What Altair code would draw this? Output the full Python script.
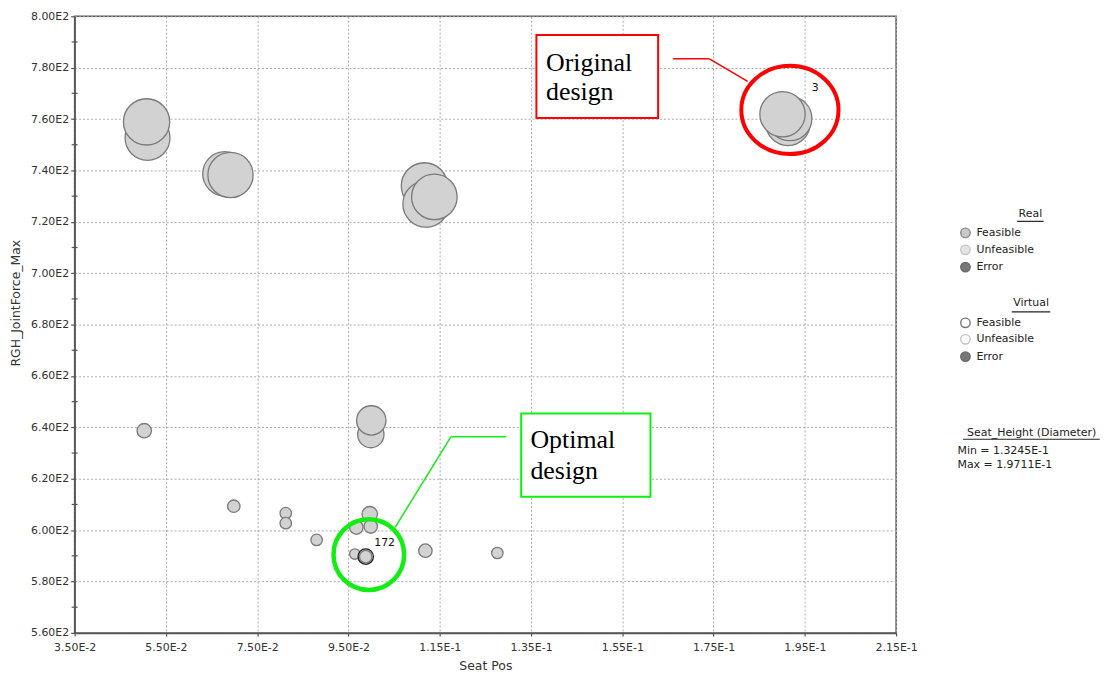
import altair as alt
import pandas as pd

# ---------------- data ----------------
seat_pos = [0.05097, 0.05076, 0.06791, 0.06915, 0.11164, 0.11199, 0.11382,
            0.1913, 0.1917, 0.1901,
            0.0999, 0.1000,
            0.05025, 0.06987, 0.08126, 0.08126, 0.08802,
            0.09966, 0.09674, 0.09988, 0.09639, 0.09878, 0.11186, 0.12762]
joint_force = [752.7, 758.9, 738.7, 738.2, 734.0, 726.9, 729.7,
               758.3, 760.2, 761.9,
               637.2, 642.7,
               638.7, 609.3, 606.6, 602.7, 596.2,
               606.2, 601.0, 601.4, 590.7, 589.7, 592.0, 591.1]
seat_height = [0.19477, 0.19711, 0.19352, 0.19531, 0.19711, 0.19711, 0.19585,
               0.19352, 0.19352, 0.19531,
               0.16119, 0.16658,
               0.13963, 0.13604, 0.13425, 0.13425, 0.13425,
               0.14143, 0.13784, 0.13784, 0.13245, 0.13604, 0.13784, 0.13425]
point_label = ["", "", "", "", "", "", "",
               "", "", "3",
               "", "",
               "", "", "", "", "",
               "", "", "", "", "172", "", ""]

x_ticks = [0.035, 0.055, 0.075, 0.095, 0.115, 0.135, 0.155, 0.175, 0.195, 0.215]
y_ticks = [560, 580, 600, 620, 640, 660, 680, 700, 720, 740, 760, 780, 800]
y_minor = [570, 590, 610, 630, 650, 670, 690, 710, 730, 750, 770, 790]

height_min = 0.13245
height_max = 0.19711

legend_labels = ["Feasible", "Unfeasible", "Error"]
real_fill = ["#c9c9c9", "#e3e3e3", "#777777"]
real_stroke = ["#8a8a8a", "#c6c6c6", "#6a6a6a"]
virtual_fill = ["#ffffff", "#ffffff", "#777777"]
virtual_stroke = ["#777777", "#c2c2c2", "#6a6a6a"]

df = pd.DataFrame({"seat_pos": seat_pos, "force": joint_force,
                   "h": seat_height, "label": point_label})

FONT = "DejaVu Sans"
SERIF = "Liberation Serif"
RED = "#ff0000"
GREEN = "#11ee11"

label_expr = "replace(replace(format(datum.value, '.2e'), 'e+', 'E'), 'e', 'E')"

xs = alt.Scale(domain=[0.035, 0.215], nice=False, zero=False)
ys = alt.Scale(domain=[560, 800], nice=False, zero=False)

x_axis = alt.Axis(values=x_ticks, title="Seat Pos", labelExpr=label_expr,
                  tickSize=3, labelPadding=6, labelFlush=False,
                  labelOverlap=False, titleY=37, titleBaseline="alphabetic")
y_axis = alt.Axis(values=y_ticks, title="RGH_JointForce_Max", labelExpr=label_expr,
                  tickSize=4, labelPadding=2, labelFlush=False,
                  labelOverlap=False, titleX=-52, titleY=288)

x_enc = alt.X("seat_pos:Q", scale=xs, axis=x_axis)
y_enc = alt.Y("force:Q", scale=ys, axis=y_axis)

size_expr = f"pow(10.5 + (datum.h - {height_min}) / ({height_max} - {height_min}) * 36, 2)"

bubbles = alt.Chart(df).transform_calculate(sz=size_expr).mark_point(
    shape="circle", filled=True, fill="#d2d2d2", stroke="#7a7a7a",
    strokeWidth=1.3, opacity=1, fillOpacity=1, strokeOpacity=1
).encode(x=x_enc, y=y_enc, size=alt.Size("sz:Q", scale=None))

ring = alt.Chart(df).transform_filter("datum.label == '172'").mark_point(
    shape="circle", filled=False, stroke="#1a1a1a", strokeWidth=1.3, size=240, opacity=1
).encode(x=x_enc, y=y_enc)

lab3 = alt.Chart(df).transform_filter("datum.label == '3'").mark_text(
    font=FONT, fontSize=11, color="#111", dx=33, dy=-26
).encode(x=x_enc, y=y_enc, text="label:N")

lab172 = alt.Chart(df).transform_filter("datum.label == '172'").mark_text(
    font=FONT, fontSize=11, color="#111", dx=19, dy=-14
).encode(x=x_enc, y=y_enc, text="label:N")

minor = alt.Chart(pd.DataFrame({"force": y_minor})).mark_rule(
    color="#555", strokeWidth=1.2
).encode(y=y_enc, x=alt.value(-3), x2=alt.value(3))

one = pd.DataFrame({"a": [0]})


def text(t, x, y, size=11, font=FONT, align="left", color="#222"):
    return alt.Chart(one).mark_text(text=t, font=font, fontSize=size, align=align,
                                    baseline="middle", color=color).encode(
        x=alt.value(x), y=alt.value(y))


def seg(x1, y1, x2, y2, color, w=1.3):
    return alt.Chart(one).mark_rule(color=color, strokeWidth=w).encode(
        x=alt.value(x1), y=alt.value(y1), x2=alt.value(x2), y2=alt.value(y2))


layers = [bubbles, minor, ring, lab3, lab172]

# legend: Real / Virtual
for title, tx, ty, ux1, ux2, uy, rows, fills, strokes in [
    ("Real", 961, 198.8, 947.7, 974.3, 206.2, [217.8, 234.8, 252.2], real_fill, real_stroke),
    ("Virtual", 961.7, 288.8, 942.3, 981, 297.2, [308.2, 324.8, 342.2], virtual_fill, virtual_stroke),
]:
    layers.append(text(title, tx, ty, align="center"))
    layers.append(seg(ux1, uy, ux2, uy, "#222", 1.2))
    for lab, ry, f, s in zip(legend_labels, rows, fills, strokes):
        layers.append(alt.Chart(one).mark_point(
            shape="circle", filled=True, fill=f, stroke=s, strokeWidth=1.4,
            size=90, opacity=1).encode(x=alt.value(895.7), y=alt.value(ry)))
        layers.append(text(lab, 906.7, ry))

# legend: size
layers.append(text("Seat_Height (Diameter)", 962.3, 418.8, align="center"))
layers.append(seg(893.3, 425.3, 1030.7, 425.3, "#222", 1.2))
layers.append(text(f"Min = {height_min * 10:.4f}E-1", 887.7, 437.5))
layers.append(text(f"Max = {height_max * 10:.4f}E-1", 887.7, 451))

# annotation: original design (red)
layers.append(alt.Chart(one).mark_rect(fill="white", stroke=RED, strokeWidth=2).encode(
    x=alt.value(464.3), x2=alt.value(586.7), y=alt.value(18.8), y2=alt.value(102.2)))
layers.append(alt.Chart(one).mark_text(text="Original", font=SERIF, fontSize=26, align="left",
                                       baseline="alphabetic", color="#000").encode(
    x=alt.value(474), y=alt.value(55.5)))
layers.append(alt.Chart(one).mark_text(text="design", font=SERIF, fontSize=26, align="left",
                                       baseline="alphabetic", color="#000").encode(
    x=alt.value(474), y=alt.value(84.5)))
layers.append(seg(601.7, 42.8, 638.3, 42.8, RED, 1.5))
layers.append(seg(638.3, 42.8, 676.7, 65.5, RED, 1.5))
ellipse = "M -1 0 A 1 0.908 0 1 1 1 0 A 1 0.908 0 1 1 -1 0 Z"
layers.append(alt.Chart(one).mark_point(shape=ellipse, filled=False, stroke=RED,
                                        strokeWidth=4, size=9545, opacity=1).encode(
    x=alt.value(719.2), y=alt.value(94.2)))

# annotation: optimal design (green)
layers.append(alt.Chart(one).mark_rect(fill="white", stroke=GREEN, strokeWidth=2).encode(
    x=alt.value(449), x2=alt.value(579), y=alt.value(399.5), y2=alt.value(483.2)))
layers.append(alt.Chart(one).mark_text(text="Optimal", font=SERIF, fontSize=26, align="left",
                                       baseline="alphabetic", color="#000").encode(
    x=alt.value(458.3), y=alt.value(433.8)))
layers.append(alt.Chart(one).mark_text(text="design", font=SERIF, fontSize=26, align="left",
                                       baseline="alphabetic", color="#000").encode(
    x=alt.value(458.3), y=alt.value(465)))
layers.append(seg(434, 422.8, 378.3, 422.8, GREEN, 1.5))
layers.append(seg(378.3, 422.8, 322.3, 513.8, GREEN, 1.5))
layers.append(alt.Chart(one).mark_point(shape="circle", filled=False, stroke=GREEN,
                                        strokeWidth=4.5, size=5041, opacity=1).encode(
    x=alt.value(295.8), y=alt.value(541.3)))

chart = alt.layer(*layers).properties(
    width=826, height=620,
    autosize=alt.AutoSizeParams(type="none"),
    padding={"left": 67, "top": 6.5, "right": 206, "bottom": 40},
).configure_view(
    stroke="#555", strokeWidth=1.5
).configure_axis(
    labelFont=FONT, labelFontSize=11, labelColor="#333",
    titleFont=FONT, titleFontSize=12.5, titleFontWeight="normal", titleColor="#333",
    domainColor="#555", domainWidth=1.5, tickColor="#555", tickWidth=1.2,
    grid=True, gridColor="#aaaaaa", gridDash=[2, 2], gridWidth=1,
)

chart.save("out.html", embed_options={"renderer": "svg", "actions": False})
